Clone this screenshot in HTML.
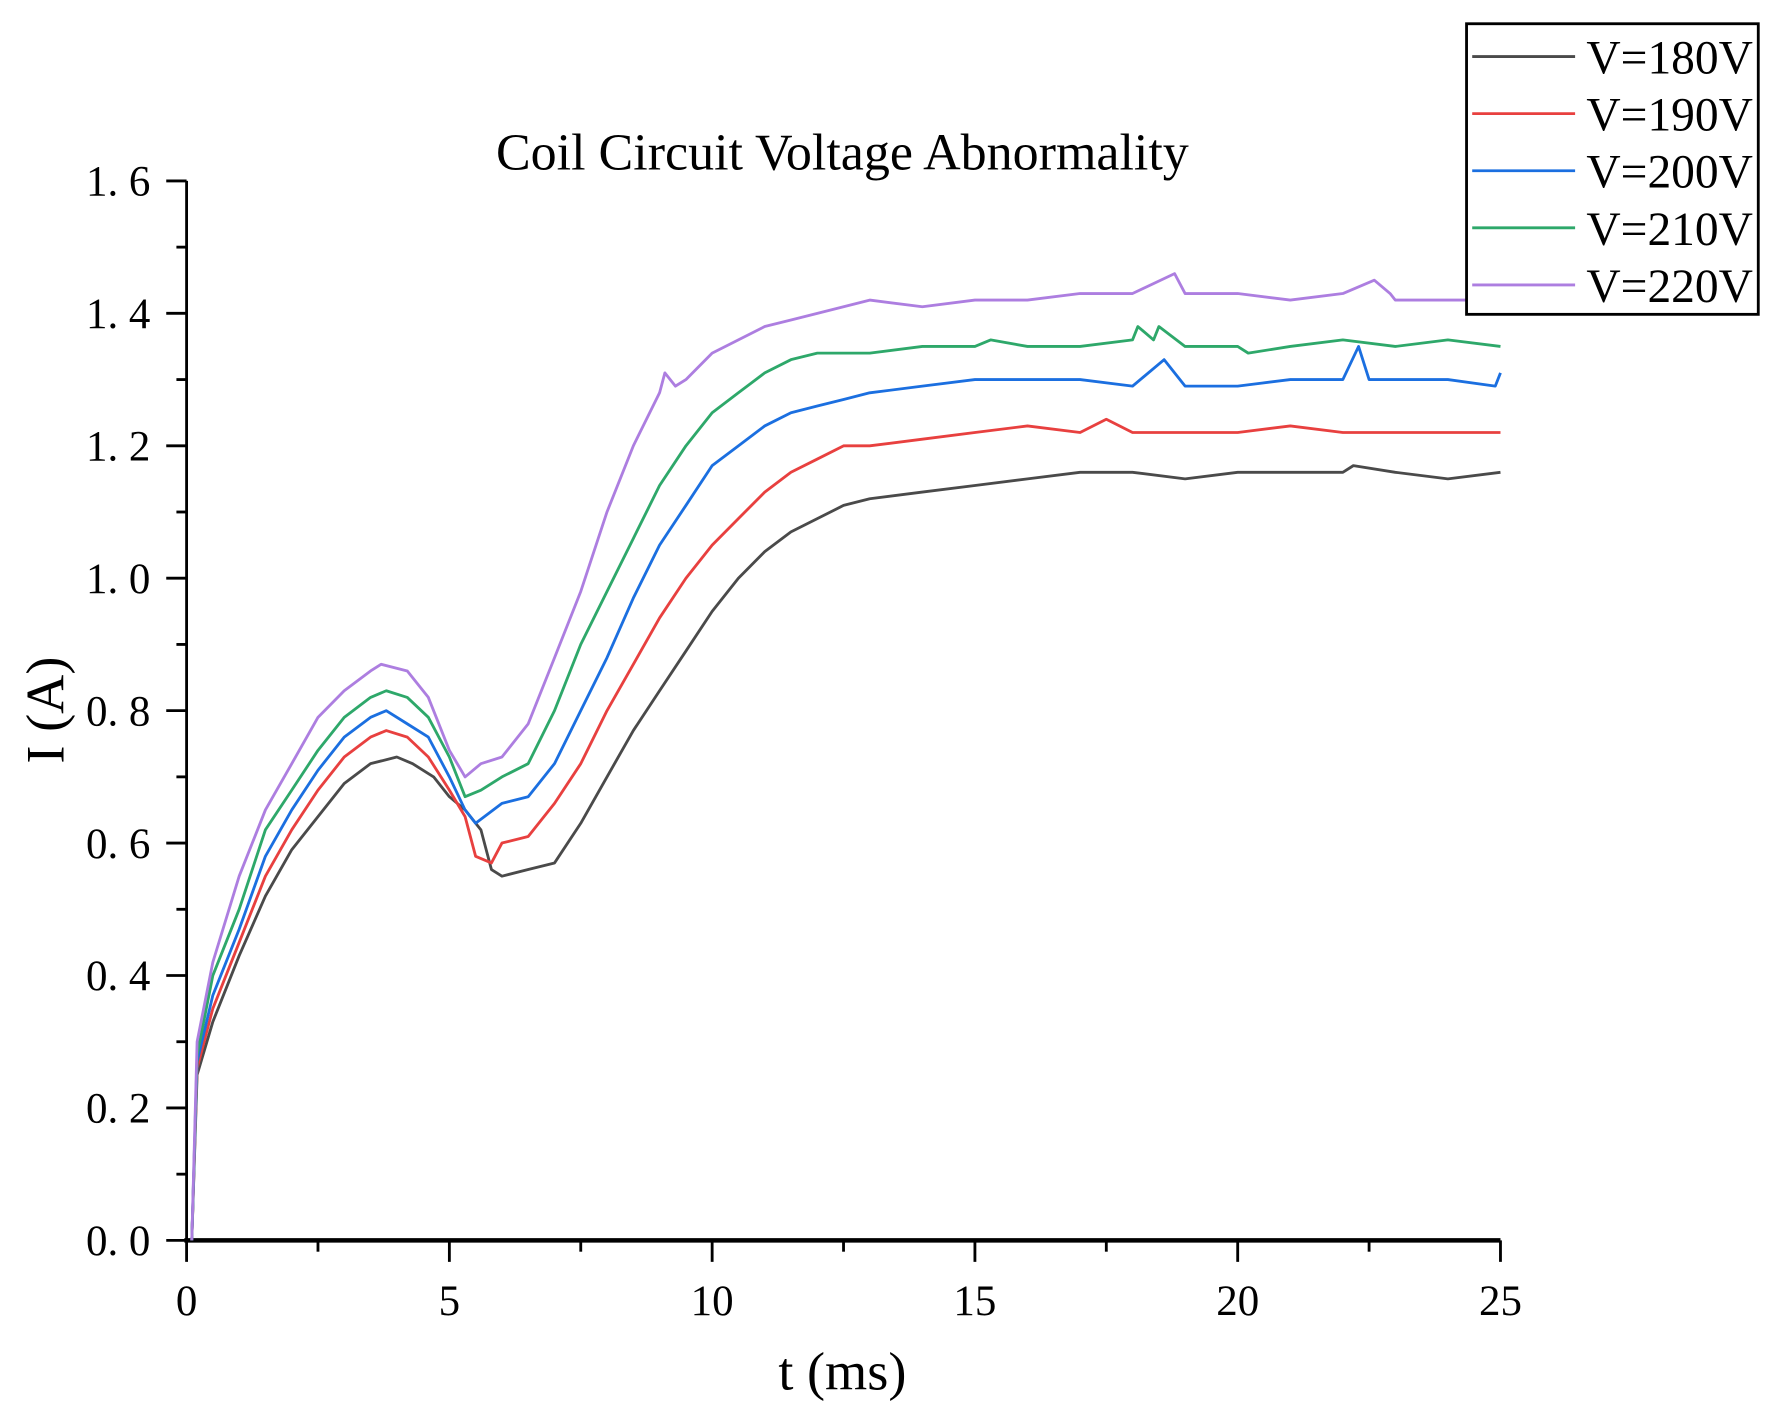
<!DOCTYPE html>
<html><head><meta charset="utf-8"><style>
html,body{margin:0;padding:0;background:#fff;}
svg{display:block;font-family:"Liberation Serif","Noto Serif CJK SC",serif;}
</style></head><body>
<svg id="chart" width="1773" height="1417" viewBox="0 0 1568 1253.2" xmlns="http://www.w3.org/2000/svg">
<rect width="1568" height="1253.2" fill="#fff"/>
<text x="745" y="150" font-size="46" text-anchor="middle">Coil Circuit Voltage Abnormality</text>
<g id="axes"></g>
<g id="series"></g>
<text x="745" y="1229" font-size="48" text-anchor="middle">t (ms)</text>
<text transform="translate(56,628) rotate(-90)" font-size="48" text-anchor="middle">I (A)</text>
<g id="legend"></g>
</svg>
<script>
const xTicks=[0,5,10,15,20,25];
const yTicks=[0,0.2,0.4,0.6,0.8,1.0,1.2,1.4,1.6];
const yTickLabels=["0. 0","0. 2","0. 4","0. 6","0. 8","1. 0","1. 2","1. 4","1. 6"];
const seriesNames=["V=180V","V=190V","V=200V","V=210V","V=220V"];
const seriesColors=["#4a4a4a","#e8403f","#1b6fe0","#2ea86a","#ad7ee0"];
const t180=[0.1,0.2,0.5,1,1.5,2,2.5,3,3.5,4,4.3,4.7,5,5.3,5.6,5.8,6,6.5,7,7.5,8,8.5,9,9.5,10,10.5,11,11.5,12,12.5,13,14,15,16,17,18,19,20,21,22,22.2,23,24,25];
const v180=[0,0.25,0.33,0.43,0.52,0.59,0.64,0.69,0.72,0.73,0.72,0.70,0.67,0.65,0.62,0.56,0.55,0.56,0.57,0.63,0.70,0.77,0.83,0.89,0.95,1.00,1.04,1.07,1.09,1.11,1.12,1.13,1.14,1.15,1.16,1.16,1.15,1.16,1.16,1.16,1.17,1.16,1.15,1.16];
const t190=[0.1,0.2,0.5,1,1.5,2,2.5,3,3.5,3.8,4.2,4.6,5,5.3,5.5,5.8,6,6.5,7,7.5,8,8.5,9,9.5,10,10.5,11,11.5,12,12.5,13,14,15,16,17,17.5,18,19,20,21,22,23,25];
const v190=[0,0.26,0.35,0.45,0.55,0.62,0.68,0.73,0.76,0.77,0.76,0.73,0.68,0.64,0.58,0.57,0.60,0.61,0.66,0.72,0.80,0.87,0.94,1.00,1.05,1.09,1.13,1.16,1.18,1.20,1.20,1.21,1.22,1.23,1.22,1.24,1.22,1.22,1.22,1.23,1.22,1.22,1.22];
const t200=[0.1,0.2,0.5,1,1.5,2,2.5,3,3.5,3.8,4.2,4.6,5,5.3,5.5,6,6.5,7,7.5,8,8.5,9,9.5,10,10.5,11,11.5,12,12.5,13,14,15,16,17,18,18.6,19,20,21,22,22.3,22.5,24,24.9,25];
const v200=[0,0.27,0.37,0.47,0.58,0.65,0.71,0.76,0.79,0.80,0.78,0.76,0.70,0.65,0.63,0.66,0.67,0.72,0.80,0.88,0.97,1.05,1.11,1.17,1.20,1.23,1.25,1.26,1.27,1.28,1.29,1.30,1.30,1.30,1.29,1.33,1.29,1.29,1.30,1.30,1.35,1.30,1.30,1.29,1.31];
const t210=[0.1,0.2,0.5,1,1.5,2,2.5,3,3.5,3.8,4.2,4.6,5,5.3,5.6,6,6.5,7,7.5,8,8.5,9,9.5,10,10.5,11,11.5,12,13,14,15,15.3,16,17,18,18.1,18.4,18.5,19,20,20.2,21,22,23,24,25];
const v210=[0,0.28,0.40,0.50,0.62,0.68,0.74,0.79,0.82,0.83,0.82,0.79,0.73,0.67,0.68,0.70,0.72,0.80,0.90,0.98,1.06,1.14,1.20,1.25,1.28,1.31,1.33,1.34,1.34,1.35,1.35,1.36,1.35,1.35,1.36,1.38,1.36,1.38,1.35,1.35,1.34,1.35,1.36,1.35,1.36,1.35];
const t220=[0.1,0.2,0.5,1,1.5,2,2.5,3,3.5,3.7,4.2,4.6,5,5.3,5.6,6,6.5,7,7.5,8,8.5,9,9.1,9.3,9.5,10,10.5,11,11.5,12,12.5,13,14,15,16,17,18,18.8,19,20,21,22,22.6,22.9,23,24,25];
const v220=[0,0.30,0.42,0.55,0.65,0.72,0.79,0.83,0.86,0.87,0.86,0.82,0.74,0.70,0.72,0.73,0.78,0.88,0.98,1.10,1.20,1.28,1.31,1.29,1.30,1.34,1.36,1.38,1.39,1.40,1.41,1.42,1.41,1.42,1.42,1.43,1.43,1.46,1.43,1.43,1.42,1.43,1.45,1.43,1.42,1.42,1.42];
const allT=[t180,t190,t200,t210,t220];
const allV=[v180,v190,v200,v210,v220];

const NS="http://www.w3.org/2000/svg";
const X0=165,X1=1327,Y0=1097,Y1=160;
function xs(t){return X0+(t-0)/(25-0)*(X1-X0);}
function ys(v){return Y0-(v-0)/(1.6-0)*(Y0-Y1);}
function mk(tag,attrs,parent){const e=document.createElementNS(NS,tag);for(const k in attrs)e.setAttribute(k,attrs[k]);parent.appendChild(e);return e;}
const axes=document.getElementById('axes');
let el=mk('line',{x1:X0,y1:Y1,x2:X0,y2:Y0+1,stroke:'#000','stroke-width':2.5},axes);


el=mk('line',{x1:X0-2,y1:Y0,x2:X1,y2:Y0,stroke:'#000','stroke-width':4},axes);


for(let i=0;i<xTicks.length;i++){
  const x=xs(xTicks[i]);
  el=mk('line',{x1:x,y1:Y0,x2:x,y2:Y0+19,stroke:'#000','stroke-width':2.5},axes);
  
  
  el=mk('text',{x:x,y:1163,'font-size':38,'text-anchor':'middle'},axes);
  el.textContent=xTicks[i];
  
  
  if(i<xTicks.length-1){
    const xm=xs((xTicks[i]+xTicks[i+1])/2);
    el=mk('line',{x1:xm,y1:Y0,x2:xm,y2:Y0+10,stroke:'#000','stroke-width':2.5},axes);
    
    
  }
}
for(let i=0;i<yTicks.length;i++){
  const y=ys(yTicks[i]);
  el=mk('line',{x1:X0-18,y1:y,x2:X0,y2:y,stroke:'#000','stroke-width':2.5},axes);
  
  
  el=mk('text',{x:133,y:y+13,'font-size':38,'text-anchor':'end'},axes);
  el.textContent=yTickLabels[i];
  
  
  if(i<yTicks.length-1){
    const ym=ys((yTicks[i]+yTicks[i+1])/2);
    el=mk('line',{x1:X0-9,y1:ym,x2:X0,y2:ym,stroke:'#000','stroke-width':2.5},axes);
    
    
  }
}
const sg=document.getElementById('series');
for(let s=0;s<allT.length;s++){
  const pts=allT[s].map((t,i)=>xs(t).toFixed(1)+','+ys(allV[s][i]).toFixed(1)).join(' ');
  el=mk('polyline',{points:pts,fill:'none',stroke:seriesColors[s],'stroke-width':2.5,'stroke-linejoin':'round'},sg);
  
  
}
const lg=document.getElementById('legend');
el=mk('rect',{x:1297,y:21,width:258,height:257,fill:'#fff',stroke:'#000','stroke-width':2.5},lg);


for(let s=0;s<seriesNames.length;s++){
  const y=50+s*50.5;
  el=mk('line',{x1:1302,y1:y,x2:1393,y2:y,stroke:seriesColors[s],'stroke-width':2.5},lg);
  
  
  el=mk('text',{x:1403,y:y+15,'font-size':42},lg);
  el.textContent=seriesNames[s];
  
  
}
</script>
</body></html>
